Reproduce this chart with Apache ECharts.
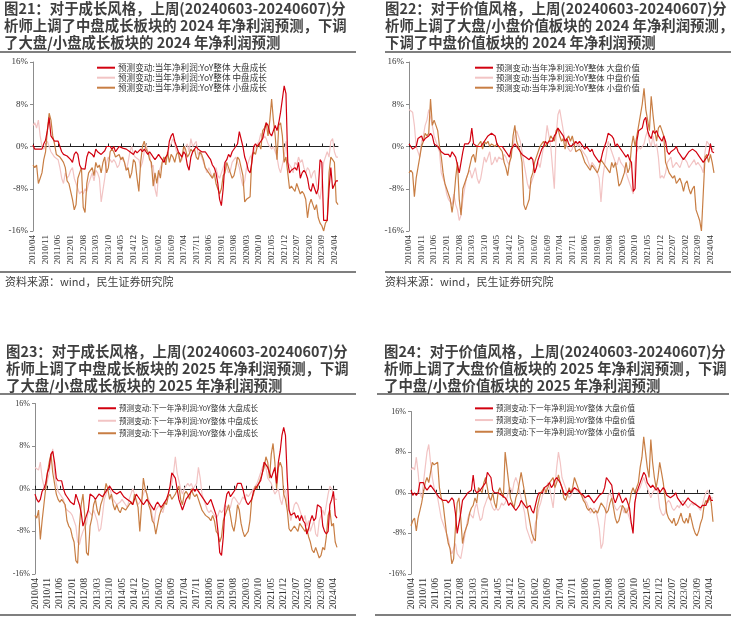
<!DOCTYPE html>
<html><head><meta charset="utf-8">
<script src="https://cdn.jsdelivr.net/npm/echarts@6/dist/echarts.min.js"></script>
<style>html,body{margin:0;padding:0;background:#fff}#c{width:736px;height:617px}</style>
</head><body><div id="c"></div>
<script>
// monthly categories 2010/04 .. 2024/06
const months = [];
for (let y = 2010; y <= 2024; y++) for (let m = 1; m <= 12; m++) {
  if ((y === 2010 && m < 4) || (y === 2024 && m > 6)) continue;
  months.push(y + '/' + String(m).padStart(2, '0'));
}
const yTicks = [-16, -8, 0, 8, 16];

// 图21 成长 2024
const g24Large = [0.3,-0.5,-0.5,-0.5,-0.3,-0.5,0.5,1.2,3,5.5, 2,1.5,1,1.2,1,0.8,-1,-1.5,-1.8,-1.8, -2,-2.5,-3,-1.5,-1,-1.5,-3.5,-4.2,-4.4,-4.3, -2,-1,-1.2,-1.5,-2,-0.5,-1,-1,-1.5,-1.2, -0.8,0,0.3,0,-0.5,0,-1,-0.5,0,0.2, -0.3,-0.5,-0.5,-0.8,-1,-1,-1.5,-0.8,-1.2,-1, -0.5,-1,-0.5,-1,-1.5,-1,-1.5,-2,-2.5,-2, -1.5,-2,-2.5,-3,-2,-1.5,1,2,2.5,1, 0,-1,-1.5,-2,-1,-1.5,-3.5,-4.5,-2,-1, -0.5,0,-0.5,-0.5,-1,-1,-1,-1.5,-2,-2.5, -3.5,-4,-5,-7,-10,-11.2,-8,-3,-2.5,-1.5, -2,-1,-1,0,0.5,2.8,2.5,0,-2,-3, -4.5,-5,-3,0,0.5,0,0.5,1,1.5,3, 4.5,4,2.5,2,3,4,3,4.5,6.5,9, 11.5,10,-3,-5,-4.5,-4.2,-4,-4.5,-3,-6, -5,-4.5,-5,-6,-8,-8.5,-7,-8,-9,-8, -2.5,-3,-14,-14.3,-14,-8,-4,-8,-8,-6.5, -6.5];
const g24Mid = [4,4.5,3.5,5,2,0,-0.5,-0.5,1,0, -1,-1.5,-2,-2,-2.5,-4,-6,-7,-5,-6, -5.5,-4.5,-4,-6,-7,-8,-9,-8.5,-9,-8, -8.5,-7,-6,-5,-6.5,-4.5,-5,-6,-10.5,-10.5, -6,-3,-2,-2.5,-3,-2.5,-3,-4,-3.5,-2, -2.5,-3,-4.5,-3,-1,0,-1.5,-2,-2,-2.5, -4,-3,-1,0.5,-1,-1.5,-4,-3.5,-8,-9.5, -5,-4,-3,-2,-3,-1.5,0,0.5,1.5,0.5, -1,-1.5,-3,-2.5,-1,0,0.5,-1,1.5,0, 0.5,1,-1.5,-1,-2,-3,-4,-5,-4,-5, -6,-5.5,-4,-5.5,-6,-5,-4,-3,-4,-5, -4.5,-3,-2.5,-2,-3,-4,-6,-7.5,-6.5,-4, -3,-2,-1.5,-1,0,0.5,1,2.5,1.5,2, 1.5,0.5,0,-0.5,0,-1,-2,-4,-5,-3.5, -2,1,-3,-3.5,-4,-5,-3,-3.5,-2,-3, -2.5,-4,-5,-4,-4.5,-6,-5,-4.5,-7,-9, -10,-7,-3,-2,-1,-2,1,1.5,-1,-2, -2];
const g24Small = [-3.5,-4,-3.5,-7,-6,-5,-2.5,-1,3,6.3, 5,2,0.5,-1.5,-1.5,-2,-2.5,-3,-4,-6.5, -7,-8.5,-10,-12,-11,-6,-5,-4,-11.5,-12.5, -7,-5,-5,-4,-5.5,-3,-4,-3.5,-5,-3, -2,-5,-4,-1,-0.5,-1,-2,-2,-1.5,-2.5, -2,-3,-4.5,-4,-6,-5,-2.5,-3,-6,-8.5, -3,0,1,-0.5,-1,-2.5,-3,-7.5,-5,-7, -4.5,-6,-3,-2,-3.5,-1,-3,-1.5,-2,-3, -1.5,-1,-3,-2,0,-0.5,-2,-1.5,-0.5,-1, -0.5,-2,-2.5,-1,-1.5,-2.5,-4,-4.5,-4.5,-5.5, -6,-5,-7,-8,-9,-8,-5.5,-5,-3,-4, -5,-6,-5.5,-4,-2,-2.5,-4,-5.5,-10.5,-10, -10,-9.5,-2,-1,-1.5,0,0.5,-0.5,3,3.5, 4.5,2,5,9,5,2,-2.5,4,4.5,2, -3,-2,-5,-8,-7.5,-8,-8.5,-7,-8,-9, -8.5,-9,-10,-13.5,-11,-10,-11,-12,-11,-13.5, -14.5,-15,-16,-14.5,-14,-5,-2,-2.5,-3,-10.5, -11];

// 图22 价值 2024
const v24Large = [0.5,0,-0.5,-0.3,0,1.5,1.5,2,1,1.5, 1.5,2,2.5,2,0.5,0.5,0,-0.5,-1,-1, -1.5,-1.5,-1.5,-2,-1,-1.5,-2,-3.5,-5,-5, -1,0.5,0.5,0.5,1,3.5,0.5,0.5,0,0, 0,0.5,1,1,2,2,2.5,2.5,2,0.5, 0,0,0,-0.5,-1,-1,-2,-0.5,0,0.5, 0,0,-1,-1.5,-1.5,-2,-2,-2.5,-2,-2.5, -5,-4,-2.5,-1.5,-0.5,0,1,0.5,1,1, 1,2,2.5,3.5,3.5,2.5,2,1,1.5,0.5, 0,0,0.5,1,0.5,1,0.5,0,-0.5,0, -0.5,-1,-0.5,-1.5,-2,-2.5,-3,-2.5,-1,0, 1,2.5,2.5,2,1.5,0,0.5,0,-0.5,-1, -1,-2,-1.5,-2.5,-3,-8.5,-8,1,3,3, 3.5,5,5.5,3,2,1.5,3,2.5,3,2, 1.5,1,2,1,-1,-1.5,-1,-1,-0.5,0, -1,-1.5,-2,-2.5,-2,-1.5,-1,-1,-0.5,-0.5, -1,-1.5,-2,-2.5,-3,-3,-2,-1.5,0.5,-1, -1.2];
const v24Mid = [7,7,6.5,4,0,-1,-2,1,2,4, 5,7,7,4,2,1,0,-1,-5,-6, -7,-9,-10,-10,-11,-9,-11,-12,-14,-13, -10,-8,-6,-5,-4.5,-6,-5,-4,-6,-7, -6,-4,-2,-3,-2,-1,-3.5,-3,-2,-3, -2,-2,-2.5,-1.5,-2,-3,-3.5,-1,0,2, 3,2,1,-1,-3,-5,-7,-8,-7,-6, -5,-4,-3,-4,-2,0,1,4,2,0, -4,-8,2,6,7,5,3,1,0,-0.5, -1,-0.5,1,1,0,0.5,-0.5,-1,-1.5,-2, -3,-4,-3,-3,-4,-5,-6,-10.5,-6,-3.5, -1.5,1,0,-1,-2,-3,-3.5,-2,-3,-3.5, -4,-5,-6,-7,-8,-9,-3,-1,0,-0.5, 0,0.5,2,3,1,0,2,0,0.5,-2, -6,-5.5,-6,-5,-3,-3,-2,-4,-4,-3, -3.5,-4,-3,-2,-2.5,-3,-4,-3.5,-3,-2.5, -3.5,-3,-3.5,-4,-5,-1,1,0.5,0,-0.5, -0.5];
const v24Small = [-5,-4.5,-5,-9.5,-6,-4,-2,0,1,2.5, 2,2.5,9,4,5,4,3,0,-2,-5, -7,-8,-9,-10,-12.5,-10,-6,-3,-10,-13, -8,-7,-6,-5,-3.5,-2,-1.5,-3,0,0, 1,-0.5,1,0.5,1,0,0.5,0.5,0,0.5, 0,-0.5,-1,-3,-4,-5.5,-3,-2,2,4, 1,0,-1,-3,-11,-12,-11,-10,-6,-5, -3,-3,-1,0,0.5,1,0,0.5,1,2, 2,1,3,3.5,2,1,1.5,-0.5,1.5,2, 1,2,0.5,-1,-1,-0.5,-1,-2,-3,-3.5, -4,-4.5,-3.5,-4,-4.5,-5,-4,-2.5,-3,-3.5, -4,-4,-5,-3,-4,-3,-5,-7.5,-7,-6, -5,-3,-5,-4,0,2,0,0,4,6, 8,11,7,5,3,9.5,6,3,1,3.5, 4,3,2,-3,-4,-5,-5,-6,-5.5,-7, -6.5,-6,-7,-8.5,-7,-6.5,-8,-9,-8,-7.5, -12,-13,-14,-16,-16,-2,-1.5,-3,-1.5,-3, -5];

// 图23 成长 2025
const g25Large = [-1,-2,-2.5,-2,-0.5,0,1,3,4,6.5, 7,5,2,1.5,1.5,1.5,0,-1,-1.5,-2, -2.5,-2.5,-3,-1,-2,-3,-4.5,-7,-7,-5, -4,-1,-1,-1.5,-2,-1.5,-1,-1,-1.5,-1, -0.5,0,0.5,0,-0.5,-0.5,-1,-1,-0.5,-1, -1.5,-1.5,-2,-2,-2.5,-3,-2,-1,-1.5,-2, -2.5,-3,-2.5,-2,-2,-3,-3.5,-4,-3,-2.5, -3,-3.5,-3,-2.5,-2,-1,0.5,3,2.5,2, 0,-2,-3,-4,-3,-2,-2,-1,-1,0, -0.5,0,-0.5,-1,-1,-2,-2.5,-3,-3,-2, -3,-4,-5,-8,-12,-12.5,-9,-3,-1,-0.5, -1.5,-1,-1,0,1,1,1,0,-1.5,-2.5, -3,-3,-2,-0.5,0,0.5,1,1.5,3,5, 5,4,3,2,3,4,1,5,7,10, 11.5,10,2,-4,-5,-5,-4.5,-5.5,-5,-6, -5,-6,-6.5,-8.5,-7.5,-6,-5,-6,-5.5,-3, -3,-3.5,-7,-8,-8.5,-8,-3,-2,-0.5,-5, -5.5];
const g25Mid = [4,4,3.5,5,2,0.5,0,1.5,3,6, 7.5,3,1,-0.5,-1,-1,-2,-3.5,-4,-4, -4.5,-5,-6,-7,-10,-10.5,-9,-8,-8,-6.5, -4,-4,-5,-4,-5,-6,-8,-7.5,-5,-2, -1,0,0.5,-1,-2,-2.5,-3,-3,-2.5,-2, -2.5,-3,-3.5,-2,-1,0,-1,-2,-3,-3, -2,-1,0,-1,-2,-3,-5,-6.5,-4,-3.5, -3,-4,-4.5,-3,-2,-1,0,1,3,6, 3,1.5,0,-1,0,0.5,1,0.5,1,0, 0,1,4,2,-1,-2,-3,-4,-4.5,-4, -4.5,-5,-5.5,-5,-4,-4.5,-4,-3,-3.5,-4, -3.5,-2,-1.5,-2,-2.5,-3,-3,-1.5,-2,-1, -1.5,-1,-0.5,0,0.5,1,2,3,4,5, 4,2,1.5,1,0,-1,-0.5,0,-2,-3, -1,0,-3,-4,-6,-4.5,-3,-2.5,-3,-4, -5,-6,-5,-7,-6,-8,-7,-6,-8.5,-9, -6,-5,-4,-5,-3,-1,0.5,0,-1,-2, -2];
const g25Small = [-5,-5.5,-4,-9.5,-6,-3,0,3,5,6.5, 3,1,-1,-2,-2.5,-2,-2,-3,-6,-7, -7.5,-9,-10,-13.5,-14,-7,-3,-1,-5,-12, -12.5,-7,-5.5,-3,-2,-4,-5,-3,-2,-1, 1,0,-2,-1,-3,-4,-3,-4,-4.5,-3.5, -3.5,-4,-4,-3,-2.5,-3,-1,-1,-3.5,-8, -3,2,0,-1,-3,-4,-6,-6.5,-8.5,-8.5, -5,-4,-3.5,-2.5,-3,-1.5,-1,-2,-1.5,-1, -1,0.5,-2,-3,-1,-0.5,-1,-2,0,-1, -1.5,-1,-2,-3,-4,-4.5,-5,-5,-5.5,-6, -5,-6,-8,-8.5,-10,-9,-6,-5,-4,-3, -5,-7,-8,-6,-3,-4,-6.5,-8,-9,-8.5, -8,-6,-2,-1,0.5,0,1,2,3,4, 6,5,2,6.5,8.5,5,0,4,5,4, -1,-2,-4,-7.5,-8,-7.5,-7,-7.5,-8,-6.5, -7,-7.5,-8,-7.5,-9,-10,-11.5,-12,-11,-11, -13,-12.5,-11,-11.5,-9,-5,-4,-7,-6.5,-10, -11];

// 图24 价值 2025
const v25Large = [0.5,-0.5,0,-0.5,0,2,2,2,1,0.5, 0.5,1.5,1,0.5,0,-0.5,-1,-1,-1.5,-1.5, -1.5,-2,-1.5,-1,-1.5,-4,-8,-8,-4,-1.5, -1,-0.5,0,0,0.5,3.5,0.5,0,0,0.5, 1,1,2,4,3.5,3,0.5,0,0,0, 0,-0.5,-0.5,-1,-1.5,-2.5,-2,-2.5,-3,-3.5, -3,-2.5,-1.5,-2,-2.5,-3,-3,-2.5,-3.5,-4, -4,-1,0,0,0,1,1,1.5,2,1, 1.5,2.5,3,3,2,1,0,-0.5,0,0.5, 0,0.5,1,1,0.5,0,0,-0.5,-1,-1, -0.5,-1,-1.5,-2,-1.5,-1,-0.5,-0.5,0,1, 3,3,2,1.5,-1,-2,-1,0,-1,-2, -1.5,-1,-2,-3,-6,-8,-2,0,1,2, 3,4,3.5,2,1.5,1,1.5,1,0.5,1, 0,0.5,1,0.5,-0.5,-0.5,-1,-1,-0.5,0, -1,-1.5,-2,-2.5,-2,-1.5,-1,-1.5,-1.5,-2, -2,-2.5,-2.5,-3,-2.5,-2.5,-2.5,-1.5,-0.5,-1.5, -1.5];
const v25Mid = [4.5,5,4.5,7,4,0,-1,2,5,8, 9.5,6,3,1,0,-1,-3,-5,-6,-7, -8,-9,-11,-12,-11,-10,-12,-12.5,-13,-11, -9,-7,-5,-4,-4.5,-5,-3,-2,-4,-5.5, -5,-3,-2,-1,-0.5,-2,-3,-3.5,-3,-3.5, -3,-2,-2.5,-2,-1,0.5,1,0,2,3, 2,0.5,-1,-2.5,-4,-7,-8,-9,-10,-9, -6,-5,-3,-2,-0.5,0,0.5,2,1,-1, -3,1,5,8,6,3,2,1,0,-1, -0.5,0,1,0.5,0,0.5,-0.5,-1,-1.5,-2, -3,-4,-3.5,-3,-3.5,-5,-7,-11,-10,-6, -3,-0.5,0,-1,-2,-3,-3.5,-3,-2.5,-3, -4,-3,-4,-5,-6,-7,-2,0,0.5,1, 2,3,2,1,0,-1,0,0.5,1.5,0, -3,-4,-4.5,-4,-2,-1.5,-2,-3,-3.5,-3, -2.5,-3,-2,-1.5,-2,-2.5,-3,-2.5,-2,-2.5, -2,-2.5,-3,-3.5,-2.5,-1,0,0.5,-0.5,-1, -1];
const v25Small = [-6.5,-5.5,-5,-7.5,-5,-3.5,-2,0,2,3, 2,4,6,5.5,5.5,6,1,-1,-2,-5, -8,-10,-11,-14,-13,-7,-2,-1,-5,-10, -8,-7,-6,-4,-3,-2.5,-1,-2,1,1, 0,2,3,1,-1,-1.5,0,-2,-3,0, 1,0,-1,8,8,2,-1,-2,-3,-1, 0,2,4,2,0,-2,-4,-6,-8,-9, -9.5,-3,-1.5,0,0,1,0,1,2,2.5, 3,1,2,3.5,2,1,-1,-1.5,-0.5,1, 0,1,3,3,1,0,-0.5,-1.5,-2,-3, -3.5,-3,-3,-4,-3.5,-4,-3,-2,-2.5,-3, -4,-3.5,-2,-1,-3,-5,-6,-5.5,-4,-2.5, -3,-4,-3.5,-2,0,1,0,0,2,5, 7,11,8,5,3,10.5,6,3,1,3, 6,4,2,-1,-4,-5,-5.5,-6,-5,-6.5, -6,-5,-4,-5.5,-6,-5,-6,-4,-5.5,-7, -8,-8.5,-7.5,-6,-5,-2.5,-1.5,-2,-1,-2, -5.7];

const COLORS = { large: '#D2000F', mid: '#F2C4C4', small: '#C87E44' };
const panels = [
  { grid: { left: 33, top: 62, width: 305, height: 169 },
    legend: { left: 97, top: 62.7, fs: 8.6, lh: 10 },
    names: ['预测变动:当年净利润:YoY整体 大盘成长', '预测变动:当年净利润:YoY整体 中盘成长', '预测变动:当年净利润:YoY整体 小盘成长'],
    data: [g24Large, g24Mid, g24Small], yfs: 9, xfs: 9 },
  { grid: { left: 409, top: 62, width: 305, height: 169 },
    legend: { left: 475, top: 62.7, fs: 8.3, lh: 10 },
    names: ['预测变动:当年净利润:YoY整体 大盘价值', '预测变动:当年净利润:YoY整体 中盘价值', '预测变动:当年净利润:YoY整体 小盘价值'],
    data: [v24Large, v24Mid, v24Small], yfs: 9, xfs: 9 },
  { grid: { left: 35, top: 403.5, width: 302, height: 170.5 },
    legend: { left: 98, top: 402, fs: 7.6, lh: 12.5 },
    names: ['预测变动:下一年净利润:YoY整体 大盘成长', '预测变动:下一年净利润:YoY整体 中盘成长', '预测变动:下一年净利润:YoY整体 小盘成长'],
    data: [g25Large, g25Mid, g25Small], yfs: 8, xfs: 9.5 },
  { grid: { left: 411, top: 411.5, width: 302, height: 162.5 },
    legend: { left: 475, top: 402.5, fs: 7.6, lh: 11.7 },
    names: ['预测变动:下一年净利润:YoY整体 大盘价值', '预测变动:下一年净利润:YoY整体 中盘价值', '预测变动:下一年净利润:YoY整体 小盘价值'],
    data: [v25Large, v25Mid, v25Small], yfs: 8, xfs: 9.5 }
];

const titles = [
  { left: 4, top: 0, text: '图21：对于成长风格，上周(20240603-20240607)分\n析师上调了中盘成长板块的 2024 年净利润预测，下调\n了大盘/小盘成长板块的 2024 年净利润预测' },
  { left: 385, top: 0, text: '图22：对于价值风格，上周(20240603-20240607)分\n析师上调了大盘/小盘价值板块的 2024 年净利润预测，\n下调了中盘价值板块的 2024 年净利润预测' },
  { left: 6, top: 343, text: '图23：对于成长风格，上周(20240603-20240607)分\n析师上调了中盘成长板块的 2025 年净利润预测，下调\n了大盘/小盘成长板块的 2025 年净利润预测' },
  { left: 384, top: 343, text: '图24：对于价值风格，上周(20240603-20240607)分\n析师上调了大盘价值板块的 2025 年净利润预测，下调\n了中盘/小盘价值板块的 2025 年净利润预测' }
];
const sources = [ { left: 5, top: 276, text: '资料来源：wind，民生证券研究院' }, { left: 385, top: 276, text: '资料来源：wind，民生证券研究院' } ];

const option = { animation: false, backgroundColor: '#fff', grid: [], xAxis: [], yAxis: [], series: [], legend: [], title: [], graphic: [] };
const serifF = '"Liberation Serif","DejaVu Serif",serif';
const cjkF = '"Noto Sans CJK SC","Noto Sans",sans-serif';

titles.forEach(t => option.title.push({ text: t.text, left: t.left, top: t.top, padding: 0,
  textStyle: { fontFamily: cjkF, fontSize: 14.4, fontWeight: 'bold', lineHeight: 17, color: '#3f3f3f' } }));
sources.forEach(t => option.title.push({ text: t.text, left: t.left, top: t.top, padding: 0,
  textStyle: { fontFamily: cjkF, fontSize: 11, fontWeight: 'normal', color: '#404040' } }));

panels.forEach((p, i) => {
  option.grid.push(Object.assign({ containLabel: false }, p.grid));
  option.yAxis.push({ type: 'value', gridIndex: i, min: -16, max: 16, interval: 8,
    axisLine: { show: true, lineStyle: { color: '#8c8c8c', width: 1 } },
    axisTick: { show: true, inside: false, length: 3, lineStyle: { color: '#8c8c8c' } },
    splitLine: { show: false },
    axisLabel: { formatter: '{value}%', fontFamily: serifF, fontSize: p.yfs, color: '#333', margin: 5 } });
  // label axis
  option.xAxis.push({ type: 'category', gridIndex: i, data: months, boundaryGap: false, position: 'bottom',
    axisLine: { show: false, onZero: false }, axisTick: { show: false },
    axisLabel: { interval: 6, rotate: 90, fontFamily: serifF, fontSize: p.xfs, color: '#333', margin: 4 } });
  // zero line axis
  option.xAxis.push({ type: 'category', gridIndex: i, data: months, boundaryGap: false, position: 'bottom',
    axisLine: { show: true, onZero: true, lineStyle: { color: '#222', width: 1 } },
    axisTick: { show: true, inside: true, length: 3, interval: 6, lineStyle: { color: '#222' } },
    axisLabel: { show: false } });
  const order = [1, 2, 0];
  const cols = [COLORS.large, COLORS.mid, COLORS.small];
  order.forEach(k => option.series.push({ type: 'line', name: p.names[k], xAxisIndex: i * 2, yAxisIndex: i,
    data: p.data[k], symbol: 'none', showSymbol: false, smooth: false,
    lineStyle: { color: cols[k], width: 1.2 }, itemStyle: { color: cols[k] } }));
  option.legend.push({ orient: 'vertical', left: p.legend.left, top: p.legend.top, padding: 0, itemGap: 0,
    icon: 'rect', itemWidth: 18, itemHeight: 2, data: p.names, selectedMode: false,
    textStyle: { fontFamily: cjkF, fontSize: p.legend.fs, lineHeight: p.legend.lh, height: p.legend.lh, color: '#333', padding: [0, 0, 0, -2] } });
});

const rule = (x1, y, x2) => ({ type: 'line', shape: { x1: x1, y1: y, x2: x2, y2: y }, style: { stroke: '#7f7f7f', lineWidth: 2 }, silent: true });
option.graphic = [ rule(0, 52, 356), rule(385, 52, 731), rule(0, 272, 356), rule(385, 272, 731),
  rule(0, 394, 356), rule(377, 394, 729), rule(0, 615, 356), rule(375, 615, 731) ];

const chart = echarts.init(document.getElementById('c'), null, { renderer: 'canvas' });
chart.setOption(option);
</script>
</body></html>
